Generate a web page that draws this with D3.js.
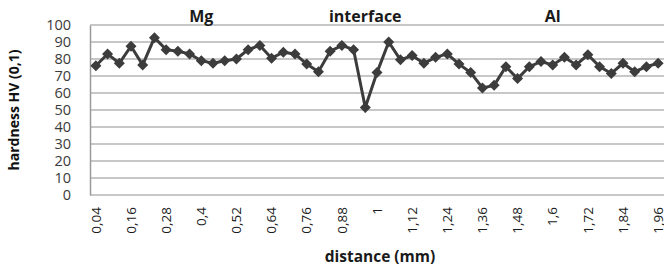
<!DOCTYPE html>
<html>
<head>
<meta charset="utf-8">
<script src="https://cdn.jsdelivr.net/npm/d3@7"></script>
<style>
  body { margin: 0; background: #fff; }
  text { font-family: "Open Sans", "DejaVu Sans", sans-serif; }
</style>
</head>
<body>
<div id="chart"></div>
<script>
var width = 664, height = 268;
var margin = {left: 90, right: 0, top: 25, bottom: 73};

// distance (mm), 0,04 .. 1,96
var distances = ["0,04","0,08","0,12","0,16","0,2","0,24","0,28","0,32","0,36","0,4",
  "0,44","0,48","0,52","0,56","0,6","0,64","0,68","0,72","0,76","0,8",
  "0,84","0,88","0,92","0,96","1","1,04","1,08","1,12","1,16","1,2",
  "1,24","1,28","1,32","1,36","1,4","1,44","1,48","1,52","1,56","1,6",
  "1,64","1,68","1,72","1,76","1,8","1,84","1,88","1,92","1,96"];

var hardness = [76, 83, 77.5, 87.5, 76.5, 92.5, 85.5, 84.5, 83, 79,
  77.5, 79, 80, 85.5, 88, 80.5, 84, 83, 77, 72.5,
  84.5, 88, 85.5, 51.5, 72, 90, 79.5, 82, 77.5, 81,
  83, 77, 72, 63, 64.5, 75.5, 68.5, 75.5, 78.5, 76.5,
  81, 76.5, 82.5, 75.5, 71.5, 77.5, 72.5, 75.5, 77.5];

var xLabels = ["0,04","0,16","0,28","0,4","0,52","0,64","0,76","0,88","1","1,12",
  "1,24","1,36","1,48","1,6","1,72","1,84","1,96"];
var yTicks = [0, 10, 20, 30, 40, 50, 60, 70, 80, 90, 100];

var zones = [
  {label: "Mg", at: "0,4"},
  {label: "interface", at: "0,96"},
  {label: "Al", at: "1,6"}
];

var svg = d3.select("#chart").append("svg")
    .attr("width", width)
    .attr("height", height);

var x = d3.scaleBand()
    .domain(distances)
    .range([margin.left, width - margin.right]);

var y = d3.scaleLinear()
    .domain([0, 100])
    .range([height - margin.bottom, margin.top]);

// gridlines
svg.append("g")
  .selectAll("line")
  .data(yTicks)
  .enter().append("line")
    .attr("x1", margin.left)
    .attr("x2", width - margin.right)
    .attr("y1", function(d) { return y(d); })
    .attr("y2", function(d) { return y(d); })
    .attr("stroke", "#b4b4b4")
    .attr("stroke-width", 1.5);

// y axis
var yAxis = svg.append("g")
    .attr("transform", "translate(" + margin.left + ",0)")
    .call(d3.axisLeft(y).tickValues(yTicks).tickSize(0).tickPadding(19));
yAxis.select(".domain").attr("stroke", "#9a9a9a").attr("stroke-width", 1.5);
yAxis.selectAll("text")
    .attr("font-size", 14.5)
    .attr("fill", "#3a3a3a")
    .attr("font-family", "\"Open Sans\", sans-serif");

// x axis
var xAxis = svg.append("g")
    .attr("transform", "translate(0," + y(0) + ")")
    .call(d3.axisBottom(x).tickValues(xLabels).tickSize(0));
xAxis.select(".domain").remove();
xAxis.selectAll("text")
    .attr("font-size", 13.5)
    .attr("fill", "#1a1a1a")
    .attr("font-family", "\"Open Sans\", sans-serif")
    .attr("transform", "rotate(-90)")
    .attr("text-anchor", "end")
    .attr("dy", "0.35em")
    .attr("dx", "-12px")
    .attr("y", 0)
    .attr("x", 0);

// line
var line = d3.line()
    .x(function(d, i) { return x(distances[i]) + x.bandwidth() / 2; })
    .y(function(d) { return y(d); });

svg.append("path")
    .datum(hardness)
    .attr("d", line)
    .attr("fill", "none")
    .attr("stroke", "#3c3c3c")
    .attr("stroke-width", 3);

// diamond markers
svg.append("g")
  .selectAll("path")
  .data(hardness)
  .enter().append("path")
    .attr("d", "M0,-5.5L5.5,0L0,5.5L-5.5,0Z")
    .attr("transform", function(d, i) {
      return "translate(" + (x(distances[i]) + x.bandwidth() / 2) + "," + y(d) + ")";
    })
    .attr("fill", "#3c3c3c");

// zone labels
svg.append("g")
  .selectAll("text")
  .data(zones)
  .enter().append("text")
    .attr("x", function(d) { return x(d.at) + x.bandwidth() / 2; })
    .attr("y", 22)
    .attr("text-anchor", "middle")
    .attr("font-size", 16)
    .attr("font-weight", "bold")
    .attr("fill", "#1a1a1a")
    .text(function(d) { return d.label; });

// axis titles
svg.append("text")
    .attr("transform", "translate(19,110) rotate(-90)")
    .attr("text-anchor", "middle")
    .attr("font-size", 14)
    .attr("font-weight", "bold")
    .attr("fill", "#111")
    .attr("font-family", "\"Liberation Sans Narrow\", \"Open Sans\", sans-serif")
    .text("hardness HV (0,1)");

svg.append("text")
    .attr("x", 380)
    .attr("y", 262)
    .attr("text-anchor", "middle")
    .attr("font-size", 15.5)
    .attr("font-weight", "bold")
    .attr("fill", "#1a1a1a")
    .text("distance (mm)");
</script>
</body>
</html>
